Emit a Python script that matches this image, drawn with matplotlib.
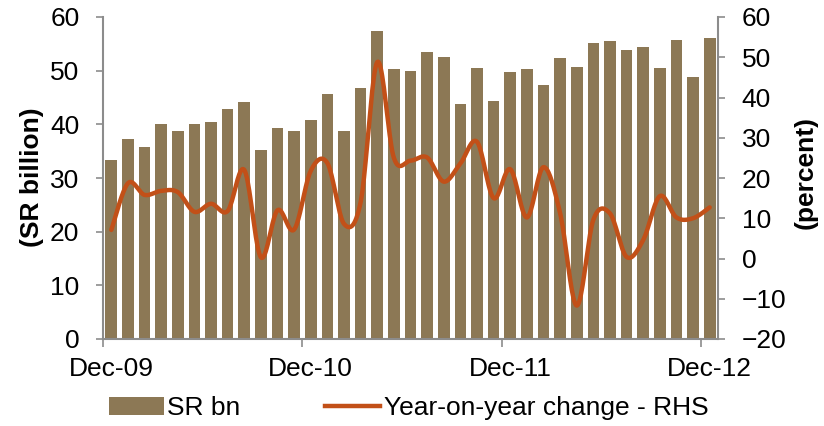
import numpy as np
import matplotlib
matplotlib.use("Agg")
import matplotlib.pyplot as plt
from matplotlib.patches import Patch
from matplotlib.lines import Line2D

months = ["Dec-09", "Jan-10", "Feb-10", "Mar-10", "Apr-10", "May-10", "Jun-10", "Jul-10",
          "Aug-10", "Sep-10", "Oct-10", "Nov-10", "Dec-10", "Jan-11", "Feb-11", "Mar-11",
          "Apr-11", "May-11", "Jun-11", "Jul-11", "Aug-11", "Sep-11", "Oct-11", "Nov-11",
          "Dec-11", "Jan-12", "Feb-12", "Mar-12", "Apr-12", "May-12", "Jun-12", "Jul-12",
          "Aug-12", "Sep-12", "Oct-12", "Nov-12", "Dec-12"]
sr_bn = [33.4, 37.3, 35.8, 40.1, 38.7, 40.0, 40.4, 42.9, 44.2, 35.3, 39.4, 38.7, 40.8,
         45.7, 38.7, 46.8, 57.4, 50.4, 50.0, 53.5, 52.5, 43.8, 50.5, 44.3, 49.8, 50.4,
         47.4, 52.4, 50.7, 55.2, 55.5, 53.8, 54.5, 50.5, 55.7, 48.8, 56.0]
yoy = [7.1, 18.7, 15.8, 16.8, 16.5, 11.6, 13.6, 11.8, 22.0, 0.3, 12.0, 7.2, 21.8,
       23.7, 8.6, 14.0, 48.8, 25.0, 24.3, 25.1, 19.1, 23.6, 29.0, 15.0, 22.2, 10.2,
       22.7, 11.3, -11.7, 9.6, 11.2, 0.4, 4.6, 15.5, 10.2, 10.0, 12.7]
tick_labels = ["Dec-09", "Dec-10", "Dec-11", "Dec-12"]

BAR = "#8C7855"
LINE = "#C25018"
GREY = "#8C8C8C"
FONT = ["Liberation Sans", "DejaVu Sans"]
FS = 19
plt.rcParams["font.family"] = FONT


def catmull_rom(x, y, n=20):
    x = np.asarray(x, float)
    y = np.asarray(y, float)
    px = np.concatenate([[x[0]], x, [x[-1]]])
    py = np.concatenate([[y[0]], y, [y[-1]]])
    xs, ys = [], []
    t = np.linspace(0, 1, n, endpoint=False)
    for i in range(1, len(px) - 2):
        p0, p1, p2, p3 = px[i - 1], px[i], px[i + 1], px[i + 2]
        q0, q1, q2, q3 = py[i - 1], py[i], py[i + 1], py[i + 2]
        c1x, c1y = p1 + (p2 - p0) / 6, q1 + (q2 - q0) / 6
        c2x, c2y = p2 - (p3 - p1) / 6, q2 - (q3 - q1) / 6
        bx = (1 - t) ** 3 * p1 + 3 * (1 - t) ** 2 * t * c1x + 3 * (1 - t) * t ** 2 * c2x + t ** 3 * p2
        by = (1 - t) ** 3 * q1 + 3 * (1 - t) ** 2 * t * c1y + 3 * (1 - t) * t ** 2 * c2y + t ** 3 * q2
        xs.append(bx)
        ys.append(by)
    xs.append([x[-1]])
    ys.append([y[-1]])
    return np.concatenate(xs), np.concatenate(ys)


fig = plt.figure(figsize=(8.24, 4.26), dpi=100)
ax = fig.add_axes([103 / 824, 1 - 339 / 426, (718 - 103) / 824, (339 - 17) / 426])
ax2 = ax.twinx()

x = np.arange(len(months))
ax.bar(x, sr_bn, width=0.7, color=BAR, zorder=2)
sx, sy = catmull_rom(x, yoy)
ax2.plot(sx, sy, color=LINE, lw=3.2, solid_capstyle="round", zorder=3)

ax.set_xlim(-0.5, len(months) - 0.5)
ax.set_ylim(0, 60)
ax.set_yticks(np.arange(0, 61, 10))
ax2.set_ylim(-20, 60)
ax2.set_yticks(np.arange(-20, 61, 10))

label_idx = [months.index(m) for m in tick_labels]
ax.set_xticks([i - 0.5 for i in label_idx])
ax.set_xticklabels([])
ax.set_xticks(label_idx, minor=True)
ax.set_xticklabels(tick_labels, minor=True)
ax.tick_params(axis="x", which="major", direction="out", length=6, width=1.2, color=GREY)
ax.tick_params(axis="x", which="minor", length=0, pad=13, labelsize=FS)
ax.tick_params(axis="y", direction="out", length=5, width=1.2, color=GREY, pad=12, labelsize=FS)
ax2.tick_params(axis="y", direction="out", length=5, width=1.2, color=GREY, pad=12, labelsize=FS)

for a in (ax, ax2):
    a.spines["top"].set_visible(False)
    for s in ("left", "right", "bottom"):
        a.spines[s].set_color(GREY)
        a.spines[s].set_linewidth(1.5)
ax.spines["right"].set_visible(False)
ax2.spines["left"].set_visible(False)
ax2.spines["bottom"].set_visible(False)

fig.text(32 / 824, 1 - 177 / 426, "(SR billion)", rotation=90, ha="center", va="center",
         fontsize=FS, fontweight="bold")
fig.text(806 / 824, 1 - 172 / 426, "(percent)", rotation=90, ha="center", va="center",
         fontsize=FS, fontweight="bold")

handles = [Patch(facecolor=BAR, edgecolor="none"),
           Line2D([0], [0], color=LINE, lw=3.2)]
fig.legend(handles, ["SR bn", "Year-on-year change - RHS"], loc="center",
           bbox_to_anchor=(0.5 * (107 + 710) / 824, 1 - 408 / 426), ncol=2, frameon=False,
           fontsize=FS, handlelength=2.1, handleheight=0.7, handletextpad=0.12,
           columnspacing=3.2, borderpad=0, borderaxespad=0)

fig.savefig("out.png", dpi=100)
